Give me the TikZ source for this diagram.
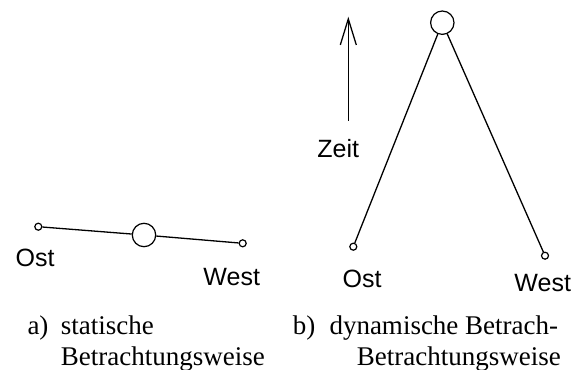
\documentclass[tikz,border=0pt]{standalone}
\usepackage{fontspec}
\setmainfont{Liberation Serif}
\setsansfont{Liberation Sans}
\usetikzlibrary{arrows.meta}
\tikzset{
%Define standard arrow tip
>={Straight Barb[length=26pt,width=16pt]},
%Define styles for the points, lines and texts
small point/.style={circle, draw, line width=1.2pt, inner sep=0pt, minimum size=7pt},
big point/.style={circle, draw, line width=1.2pt, inner sep=0pt, minimum size=23.4pt},
connection/.style={line width=1.3pt},
direction/.style={font=\sffamily\fontsize{25}{30}\selectfont, inner sep=0pt, anchor=base},
caption/.style={font=\fontsize{27}{30}\selectfont, inner sep=0pt, anchor=base west},
}

\begin{document}
\begin{tikzpicture}[x=1pt,y=-1pt]
\useasboundingbox (0,0) rectangle (577,369);
% a) static view: points on one line
\node[small point] (ost a) at (38.3,226.7) {};
\node[big point] (mid a) at (144,235) {};
\node[small point] (west a) at (242.7,243.3) {};
\draw[connection] (ost a) -- (mid a) -- (west a);
\node[direction] (ost a label) at (35,266.7) {Ost};
\node[direction] (west a label) at (231.7,285) {West};
% b) dynamic view: points spread in time
\node[big point] (mid b) at (442.3,22.7) {};
\node[small point] (ost b) at (353.3,246.7) {};
\node[small point] (west b) at (545,255.7) {};
\draw[connection] (ost b) -- (mid b) -- (west b);
\node[direction] (ost b label) at (362,287.3) {Ost};
\node[direction] (west b label) at (542.7,291.7) {West};
% Draw time axis
\coordinate (time start) at (348.3,120.7);
\coordinate (time end) at (348.3,16.7);
\draw[->,connection] (time start) -- (time end);
\node[direction] (time label) at (338.3,157.3) {Zeit};
% Captions
\node[caption] (cap a) at (27.3,334.5) {a)};
\node[caption] (cap a 1) at (60.7,334.5) {statische};
\node[caption] (cap a 2) at (60.7,365) {Betrachtungsweise};
\node[caption] (cap b) at (292.7,334.5) {b)};
\node[caption] (cap b 1) at (329.3,334.5) {dynamische Betrach-};
\node[caption] (cap b 2) at (356.7,365) {Betrachtungsweise};
\end{tikzpicture}
\end{document}
